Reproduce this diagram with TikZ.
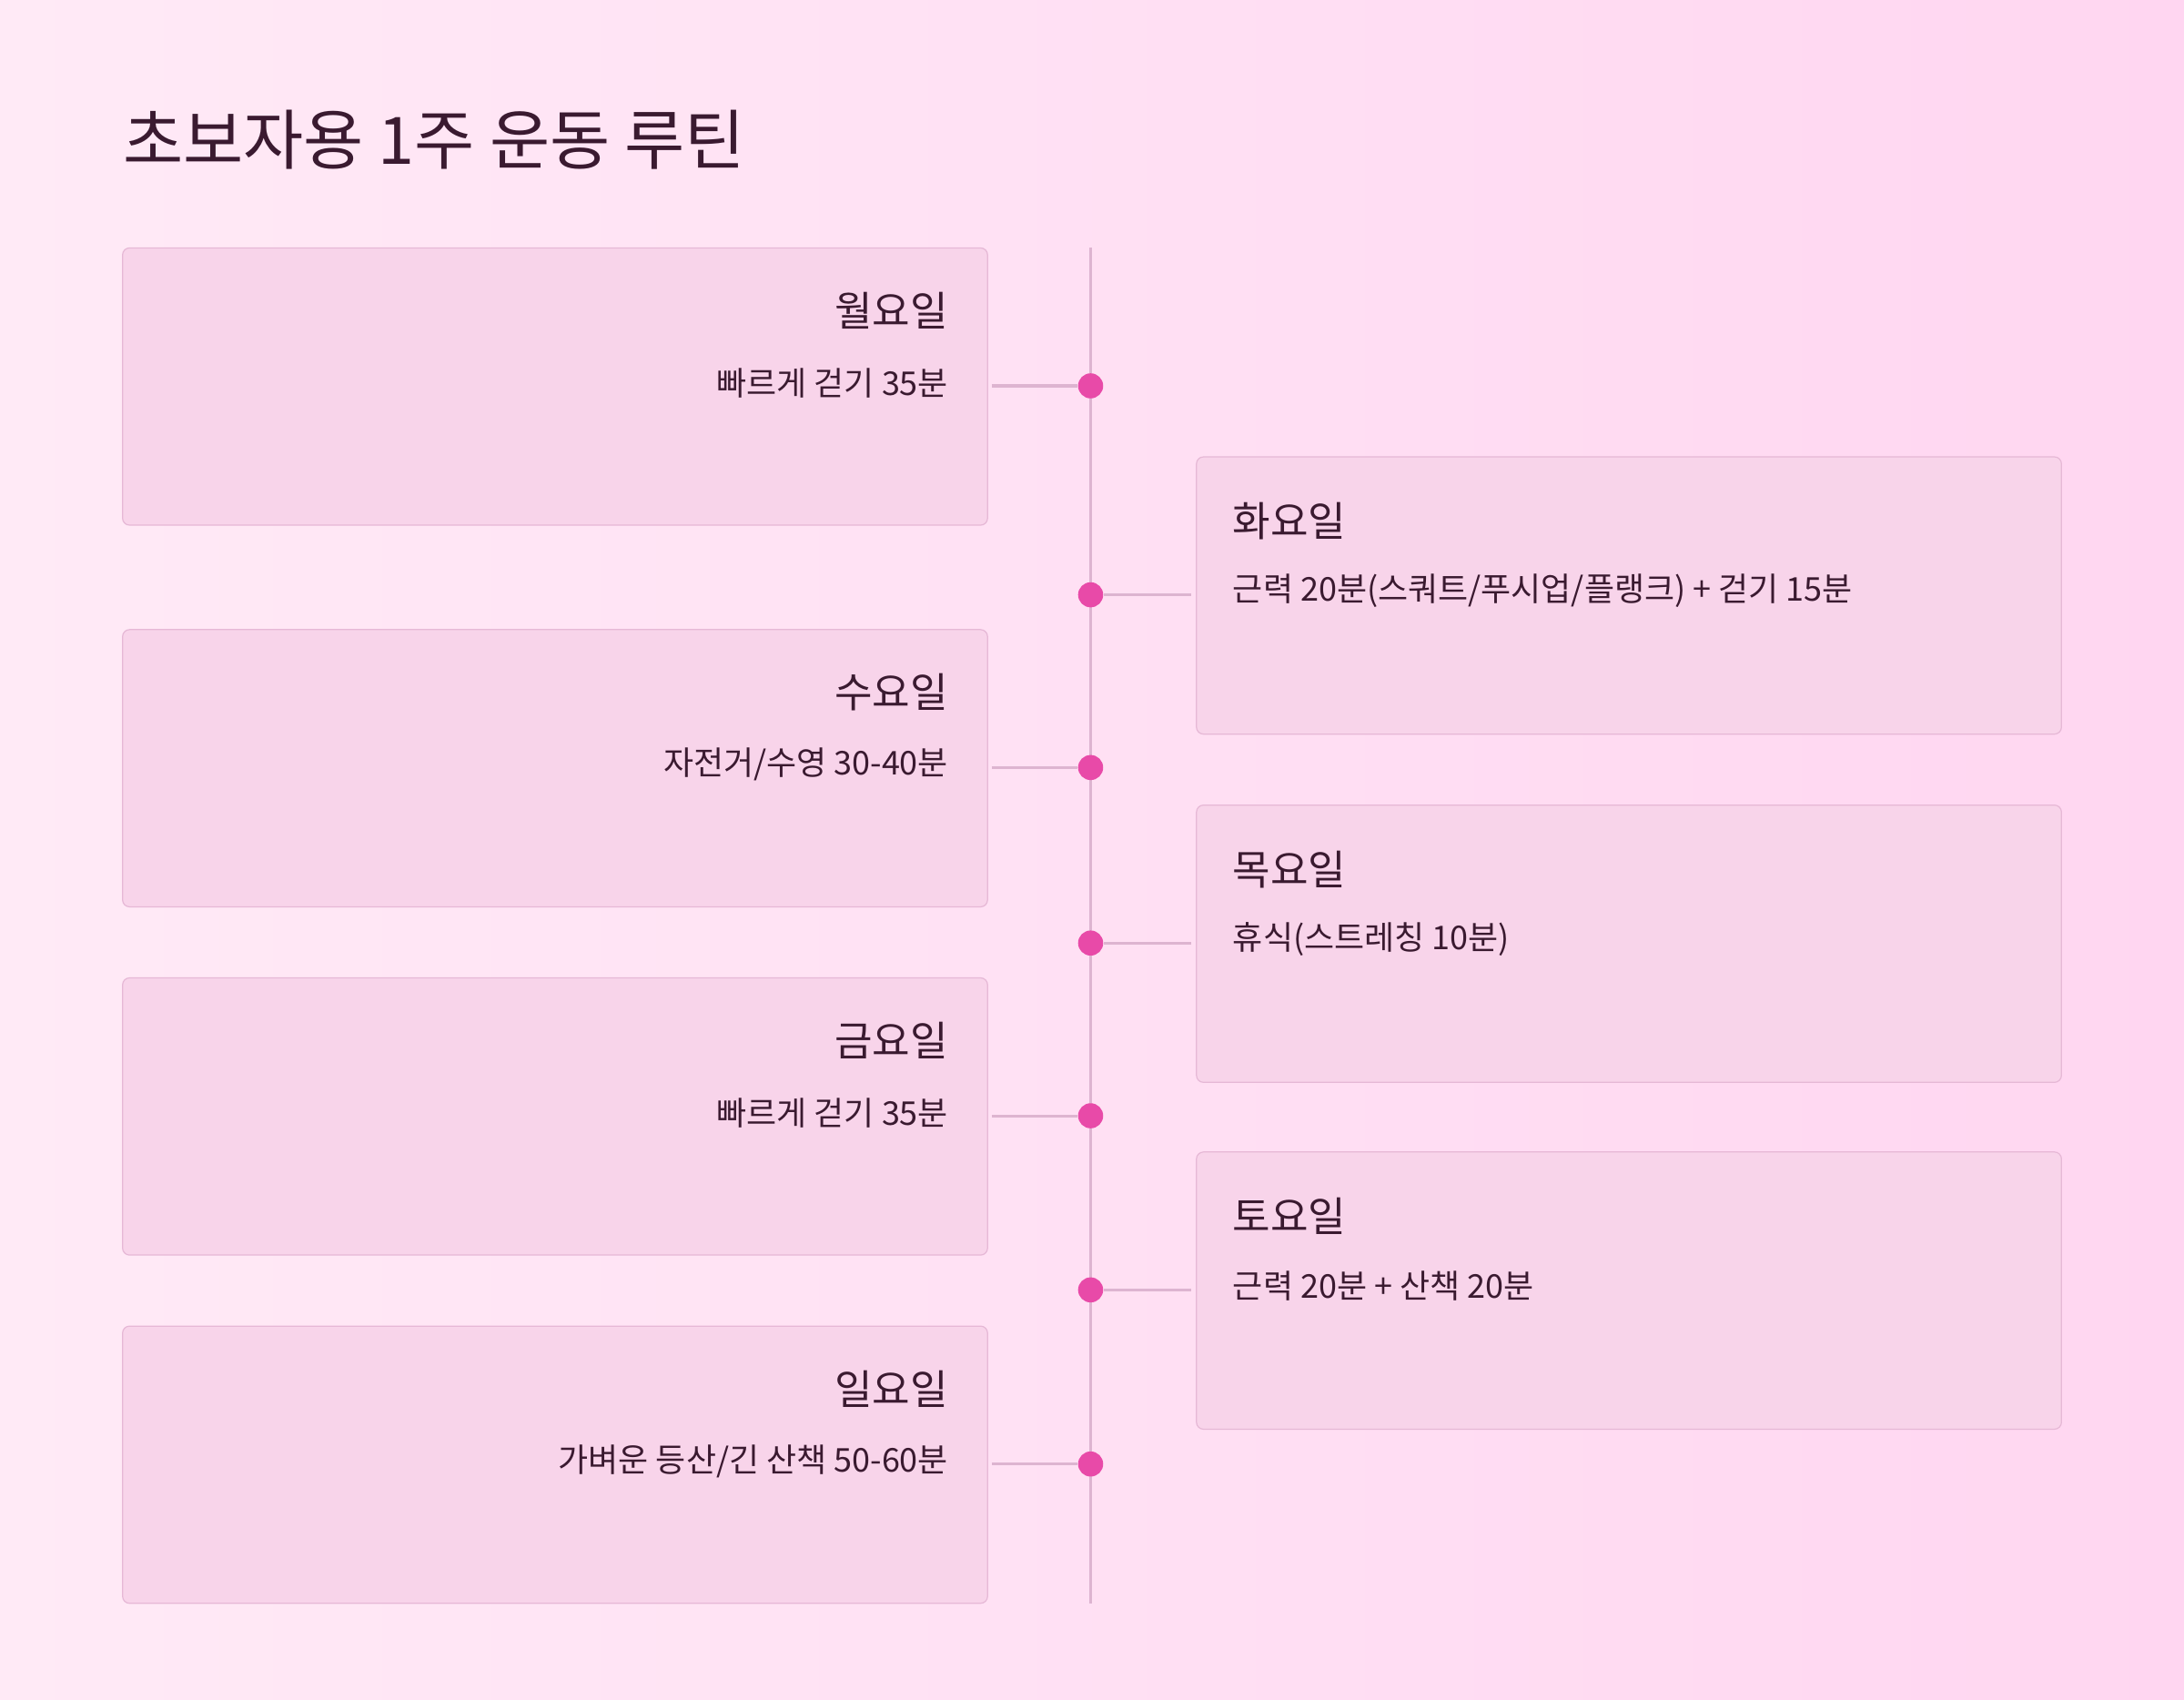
\documentclass[tikz,border=0pt]{standalone}
\usepackage{fontspec}
\setmainfont{Noto Sans CJK KR}
\newfontfamily\kr{Noto Sans CJK KR}
\definecolor{bgA}{HTML}{FFEAF6}
\definecolor{bgB}{HTML}{FFD6F1}
\definecolor{boxf}{HTML}{F8D4EA}
\definecolor{boxd}{HTML}{E6B8D6}
\definecolor{dotc}{HTML}{E84AA8}
\definecolor{linec}{HTML}{DDB4D0}
\definecolor{txt}{HTML}{3A1A30}
\tikzset{
 card/.style={draw=boxd,fill=boxf,rounded corners=5pt,line width=0.8pt},
 dayL/.style={font=\kr\fontsize{29.5}{33}\selectfont,text=txt,anchor=east,inner sep=0},
 dayR/.style={font=\kr\fontsize{29.5}{33}\selectfont,text=txt,anchor=west,inner sep=0},
 bodyL/.style={font=\kr\fontsize{23.5}{26}\selectfont,text=txt,anchor=east,inner sep=0},
 bodyR/.style={font=\kr\fontsize{23.5}{26}\selectfont,text=txt,anchor=west,inner sep=0},
 dot/.style={circle,fill=dotc,minimum size=18pt,inner sep=0},
 conn/.style={draw=linec,line width=2pt}
}
\begin{document}
\begin{tikzpicture}[x=1pt,y=-1pt]
\useasboundingbox (0,0) rectangle (1568,1220);
\shade[left color=bgA,right color=bgB] (0,0) rectangle (1568,1220);
\node[anchor=base west,inner sep=0,text=txt,font=\kr\fontsize{47}{50}\selectfont] (title) at (88,118) {초보자용 1주 운동 루틴};
\draw[conn] (783,178) coordinate (ltop) -- (783,1151) coordinate (lbot);
\foreach \n/\y/\d/\b in {mon/178/월요일/{빠르게 걷기 35분}, wed/452/수요일/{자전거/수영 30-40분}, fri/702/금요일/{빠르게 걷기 35분}, sun/952/일요일/{가벼운 등산/긴 산책 50-60분}}{
 \draw[card] (88,\y) rectangle (709,\y+199);
 \node[dayL] (\n-d) at (681,\y+45) {\d};
 \node[bodyL] (\n-b) at (681,\y+97) {\b};
 \coordinate (\n-e) at (712,\y+99);
 \node[dot] (\n-dot) at (783,\y+99) {};
 \draw[conn] (\n-e) -- (\n-dot);
}
\foreach \n/\y/\d/\b in {tue/328/화요일/{근력 20분(스쿼트/푸시업/플랭크) + 걷기 15분}, thu/578/목요일/{휴식(스트레칭 10분)}, sat/827/토요일/{근력 20분 + 산책 20분}}{
 \draw[card] (859,\y) rectangle (1480,\y+199);
 \node[dayR] (\n-d) at (885,\y+46) {\d};
 \node[bodyR] (\n-b) at (885,\y+96) {\b};
 \coordinate (\n-e) at (855,\y+99);
 \node[dot] (\n-dot) at (783,\y+99) {};
 \draw[conn] (\n-e) -- (\n-dot);
}
\end{tikzpicture}
\end{document}
